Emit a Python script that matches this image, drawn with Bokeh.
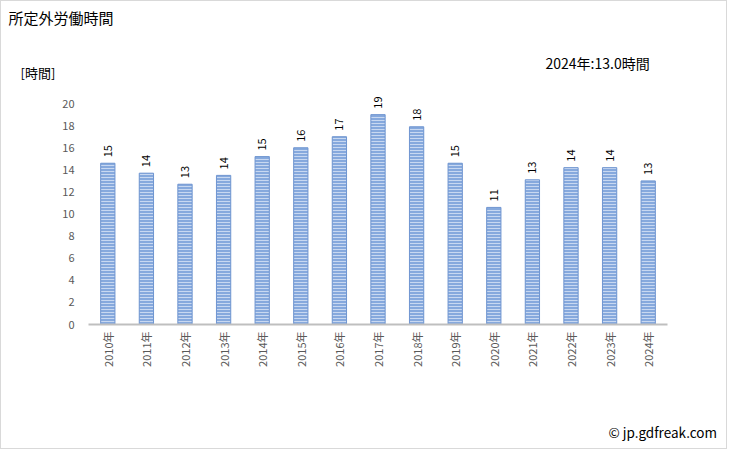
import math
from bokeh.plotting import figure
from bokeh.models import ColumnDataSource, Label, Range1d
from bokeh.core.properties import value
from bokeh.embed import file_html
from bokeh.resources import INLINE

years = ["2010年", "2011年", "2012年", "2013年", "2014年", "2015年", "2016年", "2017年",
         "2018年", "2019年", "2020年", "2021年", "2022年", "2023年", "2024年"]
hours = [14.6, 13.7, 12.7, 13.5, 15.2, 16.0, 17.0, 19.0, 17.9, 14.6, 10.6, 13.1, 14.2, 14.2, 13.0]
labels = [str(int(round(v))) for v in hours]
yticks = [0, 2, 4, 6, 8, 10, 12, 14, 16, 18, 20]

FONT = "Noto Sans CJK JP"

# page is 729x451; a 1px border surrounds the figure
B = 1
W, H = 729 - 2 * B, 451 - 2 * B
FL, FB = 88 - B, 324 - B   # frame left / bottom in figure pixels
FR = 667 - B
YMAX = 22
FT = 81 - B

src = ColumnDataSource(dict(x=years, top=hours, label=labels))

p = figure(x_range=years, width=W, height=H, output_backend="svg", toolbar_location=None,
           min_border_left=FL, min_border_right=W - FR, min_border_top=FT,
           min_border_bottom=H - FB)
p.styles = {"border": "1px solid #d9d9d9"}
p.y_range = Range1d(0, YMAX)
p.outline_line_color = None
p.border_fill_color = "white"
p.background_fill_color = "white"
p.xgrid.visible = False
p.ygrid.visible = False

p.vbar(x="x", top="top", width=0.37, source=src, fill_color="#86a9dd", line_color="#6f95d0",
       line_width=1, hatch_pattern="-", hatch_color="#d3e0f4", hatch_alpha=0.85, hatch_scale=3,
       hatch_weight=1)

p.text(x="x", y="top", text="label", source=src, angle=math.pi / 2, text_align="left",
       text_baseline="middle", y_offset=-6, text_font=value(FONT), text_font_size="11px",
       text_color="#000000")

p.yaxis.ticker = yticks
p.yaxis.axis_line_color = None
p.yaxis.major_tick_line_color = None
p.yaxis.minor_tick_line_color = None
p.yaxis.major_label_text_font = FONT
p.yaxis.major_label_text_font_size = "11px"
p.yaxis.major_label_text_color = "#595959"
p.yaxis.major_label_standoff = 8

p.xaxis.axis_line_color = "#bfbfbf"
p.xaxis.axis_line_width = 2
p.xaxis.major_tick_line_color = None
p.xaxis.minor_tick_line_color = None
p.xaxis.major_label_orientation = math.pi / 2
p.xaxis.major_label_text_font = FONT
p.xaxis.major_label_text_font_size = "11px"
p.xaxis.major_label_text_color = "#595959"
p.xaxis.major_label_standoff = 1

def add_label(x, y, text, size, stack_shift):
    # labels in the "above" panel: x from frame left (left edge of text),
    # y upward from frame top; later labels are stacked above earlier ones
    p.add_layout(Label(x=(x - B) - FL, y=FT - (y - B) - stack_shift, x_units="screen",
                       y_units="screen", text=text, text_font=FONT, text_font_size=size,
                       text_color="#000000", text_align="left", text_baseline="middle"),
                 "above")

add_label(8, 17, "所定外労働時間", "15px", 0)
add_label(20, 73, "[時間]", "13px", 20)
add_label(545, 62, "2024年:13.0時間", "14px", 40)
add_label(608, 433, "© jp.gdfreak.com", "13.5px", 58)

open("out.html", "w").write(file_html(p, INLINE))
